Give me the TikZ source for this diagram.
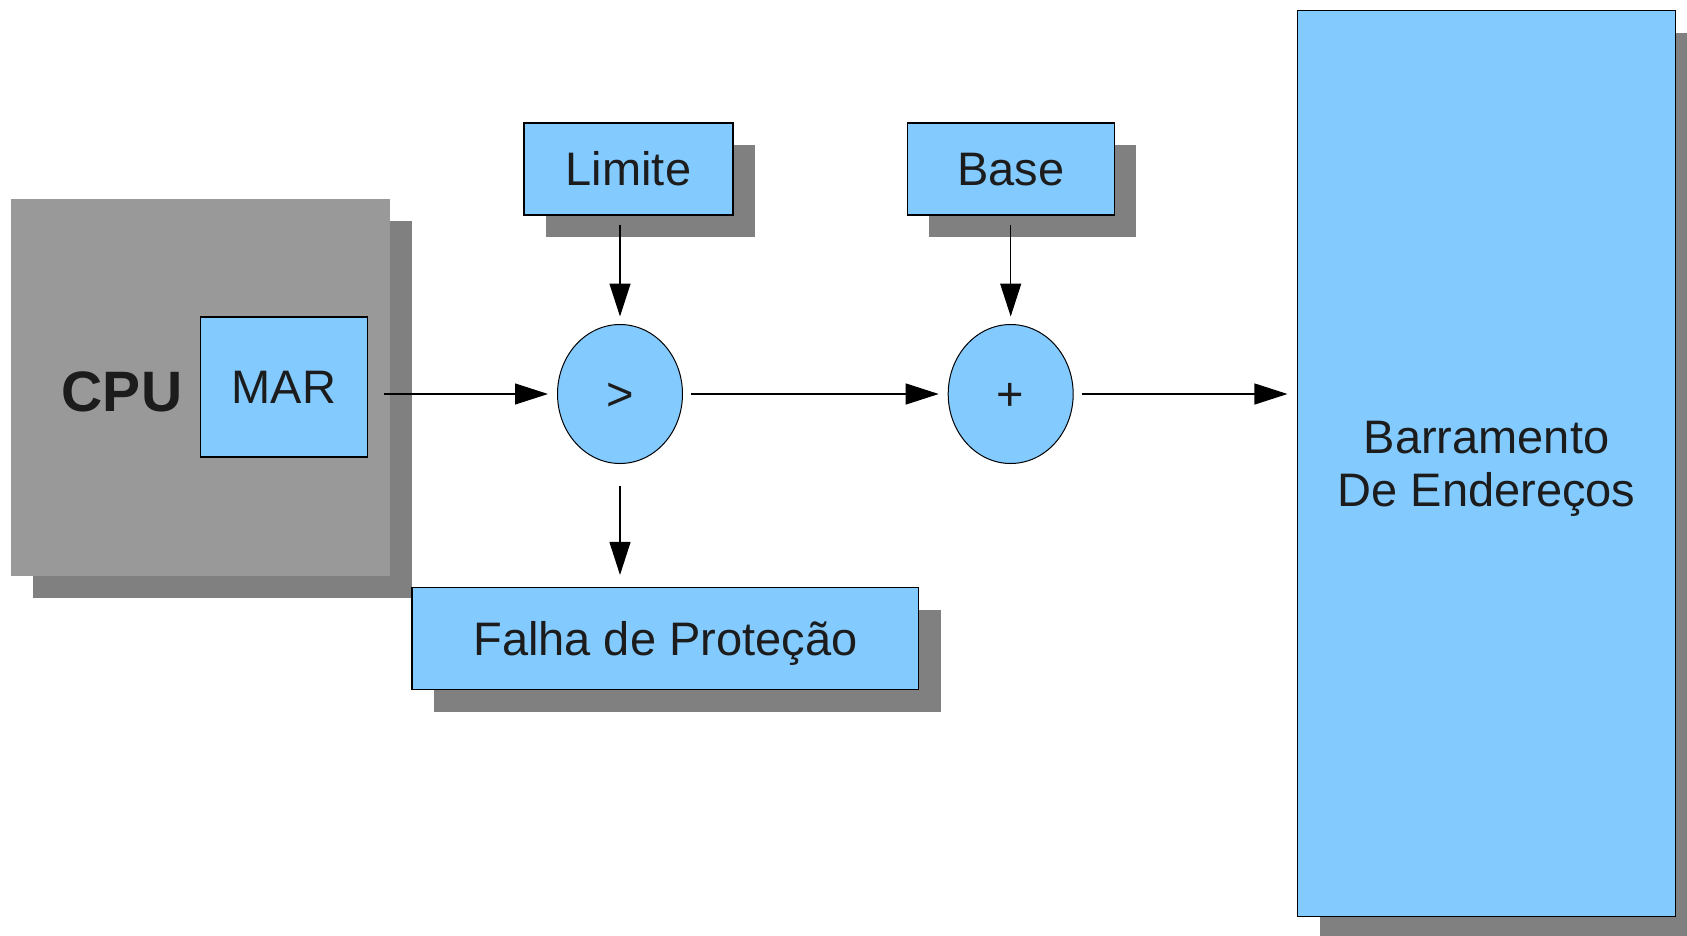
\documentclass[tikz,border=0pt]{standalone}
\usepackage{fontspec}
\setmainfont{Liberation Sans}
\usetikzlibrary{shapes.geometric, shadows, arrows.meta, positioning}
\definecolor{boxblue}{HTML}{83CAFF}
\definecolor{cpugray}{HTML}{999999}
\definecolor{shadowgray}{HTML}{808080}
\definecolor{inkgray}{HTML}{1C1C1C}
\tikzset{
x=1pt, y=-1pt, % one unit per pixel, y grows downwards
every node/.style={font=\fontsize{47}{53}\selectfont, text=inkgray}, % default label font
dropgray/.style={drop shadow={shadow xshift=22pt, shadow yshift=-22pt, fill=shadowgray, draw=none, opacity=1}}, % flat grey shadow
reg/.style={draw=black, line width=1.1pt, fill=boxblue, inner sep=0pt, text height=33.7pt, text depth=0pt}, % blue register box
box/.style={reg, dropgray}, % blue box with shadow
cpubox/.style={fill=cpugray, inner sep=0pt, dropgray}, % processor block
op/.style={ellipse, draw=black, line width=1pt, fill=boxblue, minimum width=125pt, minimum height=139pt, inner sep=0pt, text height=33.7pt, text depth=0pt}, % operator circle
flow/.style={-{Triangle[length=33pt, width=21pt]}, line width=1.2pt, draw=black}, % data path
}
\begin{document}
\begin{tikzpicture}
    \useasboundingbox (0,0) rectangle (1687,935);
    % processor and its address register
    \node[cpubox, minimum width=378.7pt, minimum height=377pt] (cpu) at (200.2,387.5) {};
    \node[font=\bfseries\fontsize{57}{60}\selectfont] (cpulabel) at (122,392) {CPU};
    \node[reg, minimum width=166.3pt, minimum height=140pt] (mar) at (283.9,387) {MAR};
    % limit check and relocation
    \node[op] (gt) at (620,394) {>};
    \node[op, right of=gt, node distance=390.7pt] (soma) {+};
    \node[box, minimum width=209pt, minimum height=92pt] (limite) at (628.5,169) {Limite};
    \node[box, above of=soma, node distance=225pt, minimum width=207pt, minimum height=92pt] (base) {Base};
    \node[box, minimum width=506.8pt, minimum height=102pt] (falha) at (665.4,638.5) {Falha de Proteção};
    \node[box, align=center, text height=, text depth=0pt, minimum width=378pt, minimum height=906pt] (barramento) at (1486.5,463.7) {Barramento\\De Endereços};
    \draw[flow, shorten <=16pt, shorten >=9pt] (mar.east |- gt.west) -- (gt.west);
    \draw[flow, shorten <=8pt, shorten >=9pt] (gt.east) -- (soma.west);
    \draw[flow, shorten <=8pt, shorten >=9.5pt] (soma.east) -- (soma.east -| barramento.west);
    \draw[flow, shorten <=9pt, shorten >=7.5pt] (limite.south -| gt.north) -- (gt.north);
    \draw[flow, shorten <=9pt, shorten >=7.5pt] (base.south -| soma.north) -- (soma.north);
    \draw[flow, shorten <=21.5pt, shorten >=12pt] (gt.south) -- (gt.south |- falha.north);
\end{tikzpicture}
\end{document}
